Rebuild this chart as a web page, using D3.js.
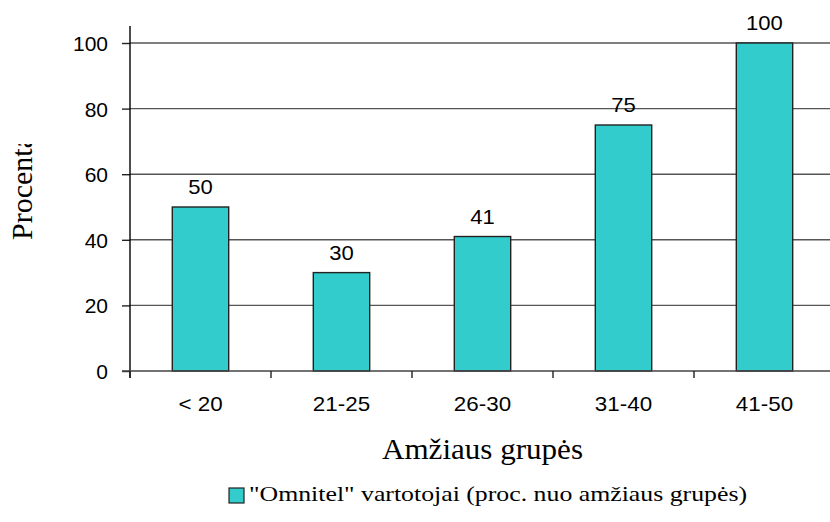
<!DOCTYPE html>
<html><head><meta charset="utf-8">
<script src="https://cdn.jsdelivr.net/npm/d3@7"></script>
<style>body{margin:0;background:#fff}svg{display:block}</style>
</head><body>
<svg id="c" width="830" height="522"></svg>
<script>
const categories = ["< 20", "21-25", "26-30", "31-40", "41-50"];
const values = [50, 30, 41, 75, 100];
const yTicks = [0, 20, 40, 60, 80, 100];
const seriesName = "\"Omnitel\" vartotojai (proc. nuo amžiaus grupės)";
const xTitle = "Amžiaus grupės";
const yTitle = "Procentai";

(function () {
const svg = d3.select("#c");
const sans = "Liberation Sans, Arial, sans-serif";
const serif = "Liberation Serif, Times New Roman, serif";
const mLeft = 130, mRight = 835, mTop = 43, mBottom = 371;
const x = d3.scaleBand().domain(categories).range([mLeft, mRight]).paddingInner(0.6).paddingOuter(0.3);
const y = d3.scaleLinear().domain([0, 100]).range([mBottom, mTop]);

// gridlines
svg.append("g").selectAll("line").data(yTicks.filter(d => d > 0)).join("line")
  .attr("x1", mLeft).attr("x2", 830).attr("y1", d => y(d)).attr("y2", d => y(d))
  .attr("stroke", "#555").attr("stroke-width", 1.4);

// bars
svg.append("g").selectAll("rect").data(values).join("rect")
  .attr("x", (d, i) => x(categories[i])).attr("width", x.bandwidth())
  .attr("y", d => y(d)).attr("height", d => y(0) - y(d))
  .attr("fill", "#33CCCC").attr("stroke", "#222").attr("stroke-width", 1.4);

// value labels
svg.append("g").selectAll("text").data(values).join("text")
  .attr("transform", (d, i) => `translate(${x(categories[i]) + x.bandwidth() / 2},${y(d) - 13}) scale(1.05,1)`)
  .attr("text-anchor", "middle").attr("font-family", sans)
  .attr("font-size", 21).text(d => d);

// y axis
const ya = svg.append("g").attr("transform", `translate(${mLeft},0)`)
  .call(d3.axisLeft(y).tickValues(yTicks).tickSize(8).tickPadding(14));
ya.select(".domain").remove();
ya.selectAll(".tick line").attr("stroke", "#222").attr("stroke-width", 1.4);
ya.selectAll(".tick text").attr("font-family", sans).attr("font-size", 21).attr("fill", "#000")
  .attr("dy", "0.36em");
svg.append("line").attr("x1", mLeft).attr("x2", mLeft).attr("y1", 26).attr("y2", mBottom + 7)
  .attr("stroke", "#000").attr("stroke-width", 1.4);

// x axis
const xa = svg.append("g").attr("transform", `translate(0,${mBottom})`)
  .call(d3.axisBottom(x).tickSize(0).tickPadding(26));
xa.select(".domain").remove();
xa.selectAll(".tick text").attr("font-family", sans).attr("font-size", 20).attr("fill", "#000")
  .attr("transform", "scale(1.12,1)");
svg.append("line").attr("x1", mLeft - 8).attr("x2", 830).attr("y1", mBottom).attr("y2", mBottom)
  .attr("stroke", "#444").attr("stroke-width", 1.4);
svg.append("g").selectAll("line").data(categories).join("line")
  .attr("x1", d => x(d) - x.step() * x.paddingInner() / 2).attr("x2", d => x(d) - x.step() * x.paddingInner() / 2)
  .attr("y1", mBottom).attr("y2", mBottom + 7).attr("stroke", "#222").attr("stroke-width", 1.4);

// x title
svg.append("text").attr("x", 382).attr("y", 459)
  .attr("textLength", 201).attr("lengthAdjust", "spacingAndGlyphs")
  .attr("font-family", serif).attr("font-size", 29).text(xTitle);

// y title (clipped like the original)
svg.append("clipPath").attr("id", "yclip").append("rect").attr("x", 0).attr("y", 144).attr("width", 60).attr("height", 200);
svg.append("g").attr("clip-path", "url(#yclip)").append("text")
  .attr("transform", "translate(32,240) rotate(-90)")
  .attr("font-family", serif).attr("font-size", 30).text(yTitle);

// legend
const lg = svg.append("g").attr("transform", "translate(229,488)");
lg.append("rect").attr("width", 15).attr("height", 15).attr("fill", "#33CCCC").attr("stroke", "#222").attr("stroke-width", 1.2);
lg.append("text").attr("x", 20).attr("y", 13)
  .attr("textLength", 498).attr("lengthAdjust", "spacingAndGlyphs")
  .attr("font-family", serif).attr("font-size", 22).text(seriesName);
})();
</script>
</body></html>
